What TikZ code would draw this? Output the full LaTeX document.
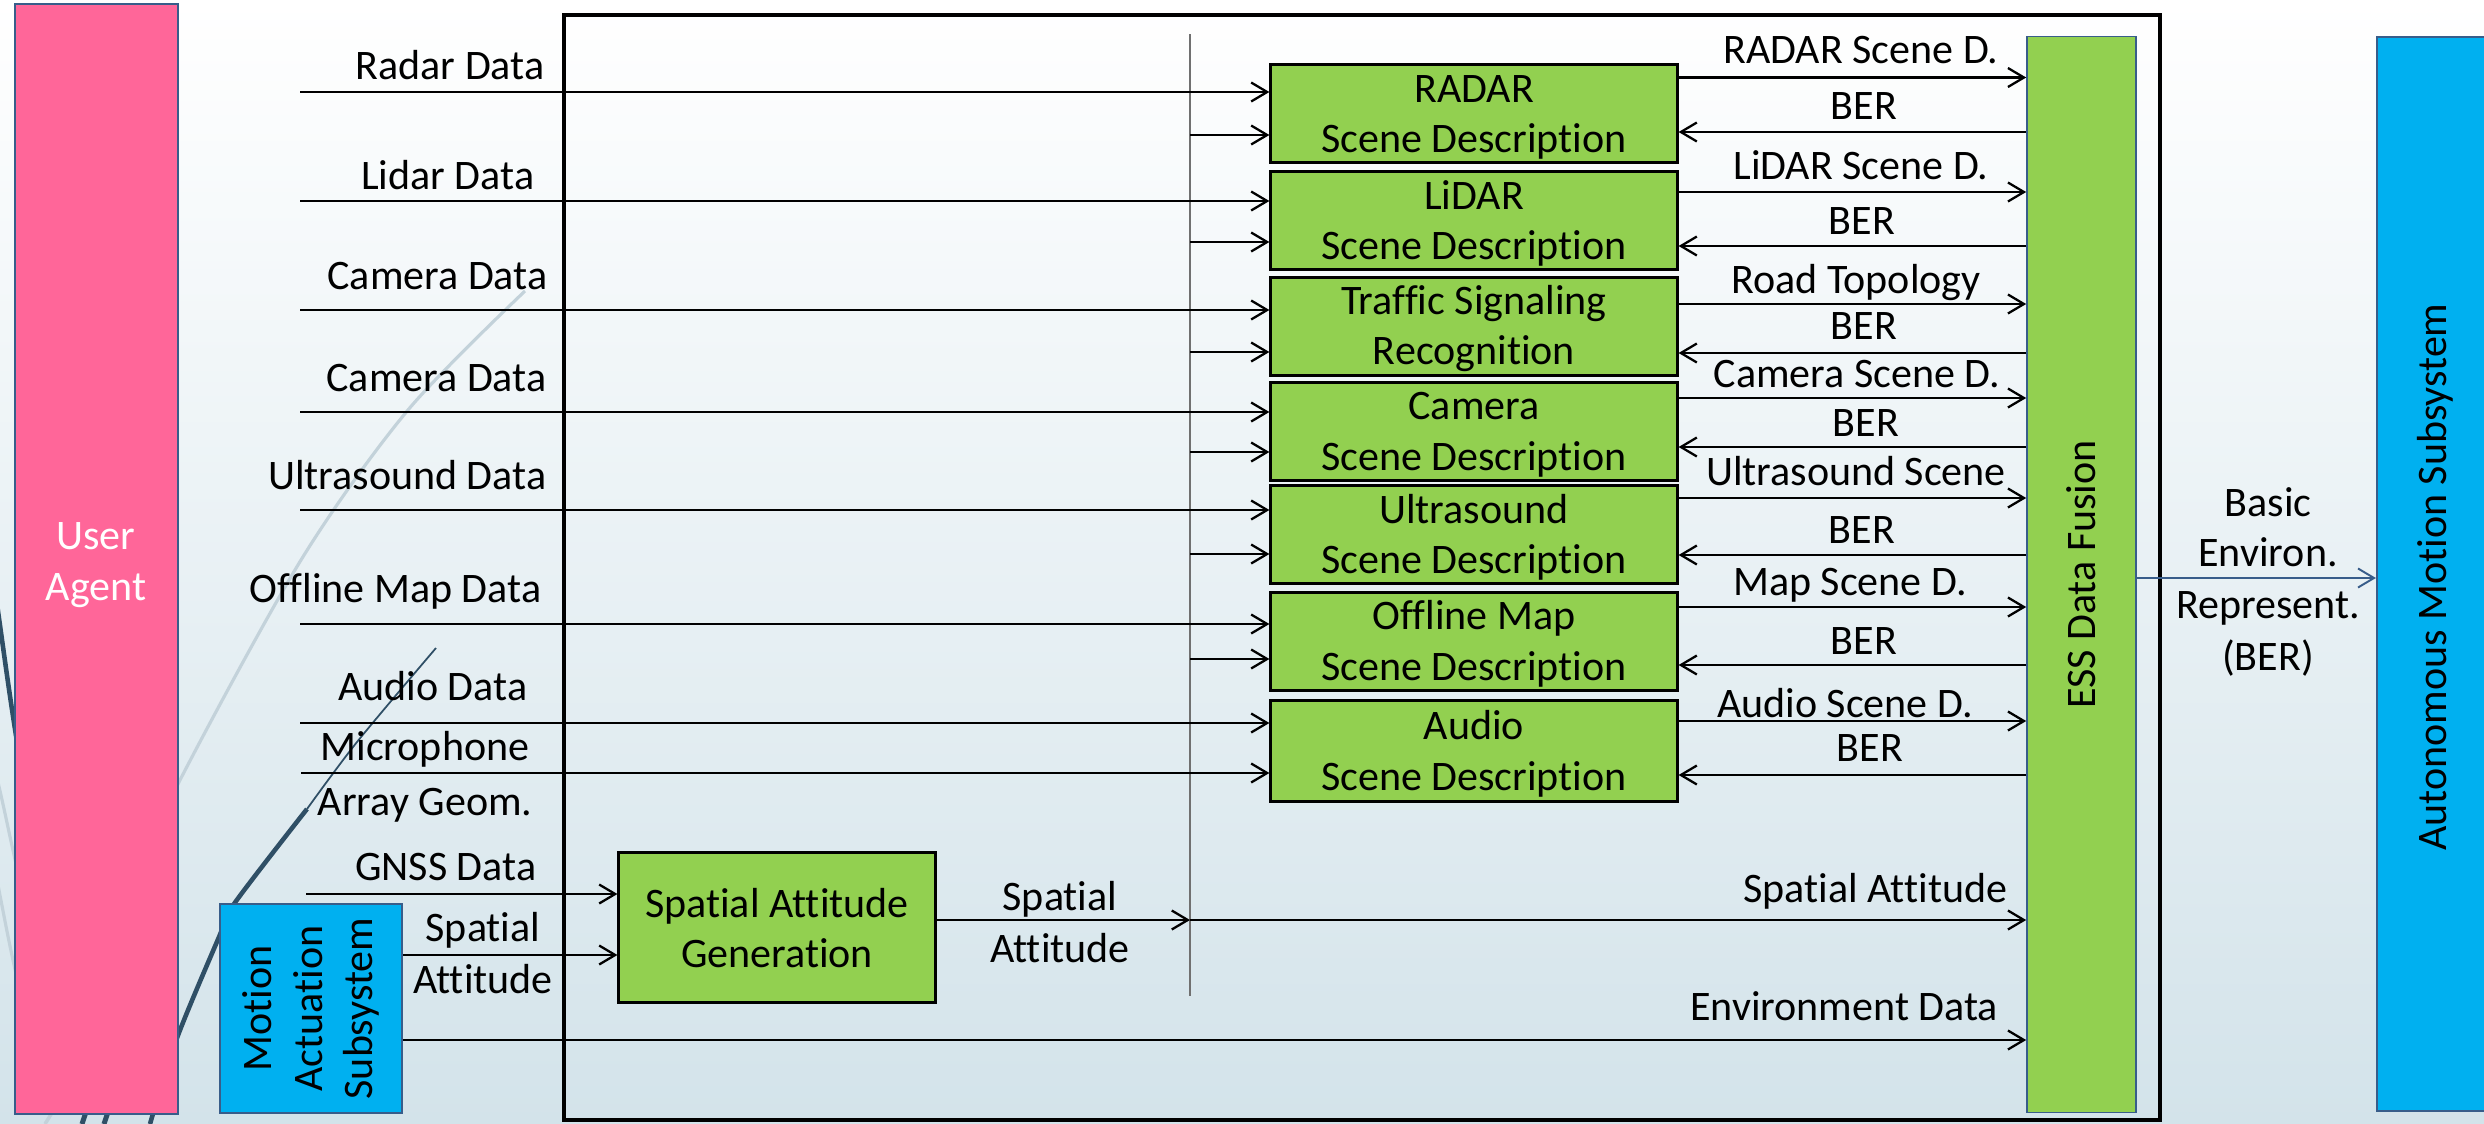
\documentclass[tikz,border=0pt]{standalone}
\usepackage{fontspec}
\setmainfont{Carlito}[Ligatures=NoCommon]
\usetikzlibrary{arrows.meta,calc}
\definecolor{boxgreen}{HTML}{92D050}
\definecolor{boxblue}{HTML}{00B0F0}
\definecolor{boxpink}{HTML}{FF6699}
\definecolor{edgeblue}{HTML}{385D8A}
\definecolor{bgbot}{RGB}{211,227,234}
\definecolor{curvedark}{HTML}{2F4F66}
\definecolor{curvelight}{HTML}{C3D2DA}
\definecolor{vlinecol}{HTML}{707070}
\begin{document}
\begin{tikzpicture}[x=0.01cm,y=-0.01cm,
  txt/.style={font=\fontsize{11.95pt}{14.4pt}\selectfont, inner sep=0pt},
  lbl/.style={txt, anchor=base},
  lblr/.style={txt, anchor=base east},
  gbox/.style={draw=black, line width=0.85pt, fill=boxgreen, inner sep=0pt, minimum width=4.06cm, minimum height=0.97cm},
  arr/.style={line width=0.65pt, -{Straight Barb[length=0.16cm,width=0.19cm]}},
]
\useasboundingbox (0,0) rectangle (2484,1124);
% background
\shade[top color=white, bottom color=bgbot] (0,0) rectangle (2484,1124);
% decorative curves
\draw[curvelight, line width=0.9pt] plot[smooth] coordinates {(150,860) (177,786) (301,560) (408,410) (525,291)};
\draw[curvedark, line width=1.3pt] plot[smooth] coordinates {(150,1124) (177,1038) (219,937) (234,904) (307,809)};
\draw[curvedark, line width=0.5pt] plot[smooth] coordinates {(307,809) (357,742) (436,648)};
\draw[curvedark, line width=1.3pt] (-5,590) .. controls (5,660) and (10,700) .. (20,760);
\draw[curvelight, line width=0.9pt] (-5,770) .. controls (5,810) and (10,840) .. (20,880);
\draw[curvelight, line width=0.9pt] (-5,870) .. controls (5,920) and (10,950) .. (20,990);
\draw[curvelight, line width=1pt] (45,1124) -- (60,1100);
\draw[curvedark, line width=1.4pt] (82,1124) -- (90,1100);
\draw[curvedark, line width=1.4pt] (104,1124) -- (112,1100);

% outer boxes
\node[draw=edgeblue, line width=0.6pt, fill=boxpink, inner sep=0pt, minimum width=1.63cm, minimum height=11.1cm] (ua) at (96.5,559) {};
\node[txt, white, align=center] (uat) at (96,565) {User\\Agent};
\node[draw=edgeblue, line width=0.6pt, fill=boxblue, inner sep=0pt, minimum width=1.82cm, minimum height=2.09cm] (mas) at (311,1008.5) {};
\node[txt, rotate=90, align=center] (mast) at (mas.center) {Motion\\Actuation\\Subsystem};
\node[draw=edgeblue, line width=0.6pt, fill=boxblue, inner sep=0pt, minimum width=1.16cm, minimum height=10.74cm] (amb) at (2435,574) {};
\node[txt, rotate=90] (ambt) at (2435,577) {Autonomous Motion Subsystem};

% main frame
\draw[line width=1.1pt] (564,15) rectangle (2160,1120);

% ESS
\node[draw=edgeblue, line width=0.45pt, fill=boxgreen, inner sep=0pt, minimum width=1.09cm, minimum height=10.75cm] (ess) at (2081.5,574.5) {};
\node[txt, rotate=90] (esst) at (ess.center) {ESS Data Fusion};

% green boxes
\node[gbox] (r1) at (1474,113.5) {};
\node[gbox] (r2) at (1474,220.5) {};
\node[gbox] (r3) at (1474,326.5) {};
\node[gbox] (r4) at (1474,431.5) {};
\node[gbox] (r5) at (1474,534.5) {};
\node[gbox] (r6) at (1474,641.5) {};
\node[gbox, minimum height=1.0cm] (r7) at (1474,751) {};
\node[gbox, minimum width=3.16cm, minimum height=1.49cm] (sag) at (777,927.5) {};

\node[lbl] at (1474,102) {RADAR};
\node[lbl] at (1474,152) {Scene Description};
\node[lbl] at (1474,209) {LiDAR};
\node[lbl] at (1474,259) {Scene Description};
\node[lbl] at (1474,314) {Traffic Signaling};
\node[lbl] at (1474,364) {Recognition};
\node[lbl] at (1474,419) {Camera};
\node[lbl] at (1474,470) {Scene Description};
\node[lbl] at (1474,523) {Ultrasound};
\node[lbl] at (1474,573) {Scene Description};
\node[lbl] at (1474,629) {Offline Map};
\node[lbl] at (1474,680) {Scene Description};
\node[lbl] at (1474,739) {Audio};
\node[lbl] at (1474,790) {Scene Description};
\node[lbl] at (777,917) {Spatial Attitude};
\node[lbl] at (777,967) {Generation};

% vertical distribution line
\coordinate (vt) at (1190,34);
\coordinate (vb) at (1190,996);
\draw[vlinecol, line width=0.35pt] (vt) -- (vb);

% input lines
\coordinate (iRadar) at (300,92);
\coordinate (iLidar) at (300,201);
\coordinate (iCamA) at (300,310);
\coordinate (iCamB) at (300,412);
\coordinate (iUltra) at (300,510);
\coordinate (iMap) at (300,624);
\coordinate (iAudio) at (300,723);
\coordinate (iMic) at (301,773);
\coordinate (iGnss) at (306,894);
\draw[arr] (iRadar) -- (iRadar -| r1.west);
\draw[arr] (iLidar) -- (iLidar -| r2.west);
\draw[arr] (iCamA) -- (iCamA -| r3.west);
\draw[arr] (iCamB) -- (iCamB -| r4.west);
\draw[arr] (iUltra) -- (iUltra -| r5.west);
\draw[arr] (iMap) -- (iMap -| r6.west);
\draw[arr] (iAudio) -- (iAudio -| r7.west);
\draw[arr] (iMic) -- (iMic -| r7.west);
\draw[arr] (iGnss) -- (iGnss -| sag.west);

% spatial attitude feeds
\draw[arr] (vt |- 0,135) -- (r1.west |- 0,135);
\draw[arr] (vt |- 0,242) -- (r2.west |- 0,242);
\draw[arr] (vt |- 0,352) -- (r3.west |- 0,352);
\draw[arr] (vt |- 0,452) -- (r4.west |- 0,452);
\draw[arr] (vt |- 0,554) -- (r5.west |- 0,554);
\draw[arr] (vt |- 0,659) -- (r6.west |- 0,659);

% outputs / BER feedback
\draw[arr] (r1.east |- 0,77.5) -- (ess.west |- 0,77.5);
\draw[arr] (ess.west |- 0,132) -- (r1.east |- 0,132);
\draw[arr] (r2.east |- 0,192) -- (ess.west |- 0,192);
\draw[arr] (ess.west |- 0,246) -- (r2.east |- 0,246);
\draw[arr] (r3.east |- 0,304) -- (ess.west |- 0,304);
\draw[arr] (ess.west |- 0,353) -- (r3.east |- 0,353);
\draw[arr] (r4.east |- 0,398) -- (ess.west |- 0,398);
\draw[arr] (ess.west |- 0,447) -- (r4.east |- 0,447);
\draw[arr] (r5.east |- 0,498) -- (ess.west |- 0,498);
\draw[arr] (ess.west |- 0,555) -- (r5.east |- 0,555);
\draw[arr] (r6.east |- 0,607) -- (ess.west |- 0,607);
\draw[arr] (ess.west |- 0,665) -- (r6.east |- 0,665);
\draw[arr] (r7.east |- 0,721) -- (ess.west |- 0,721);
\draw[arr] (ess.west |- 0,775) -- (r7.east |- 0,775);

% spatial attitude & environment
\draw[arr] (mas.east |- 0,955) -- (sag.west |- 0,955);
\draw[arr] (sag.east |- 0,920) -- (vt |- 0,920);
\draw[arr] (vt |- 0,920) -- (ess.west |- 0,920);
\draw[arr] (mas.east |- 0,1040) -- (ess.west |- 0,1040);
\draw[edgeblue, line width=0.55pt, -{Straight Barb[length=0.16cm,width=0.19cm]}] (ess.east |- 0,578) -- (amb.west |- 0,578);

% left labels
\node[lblr] at (545,79) {Radar Data};
\node[lblr] at (535,189) {Lidar Data};
\node[lblr] at (548,289) {Camera Data};
\node[lblr] at (547,391) {Camera Data};
\node[lblr] at (547,489) {Ultrasound Data};
\node[lblr] at (542,602) {Offline Map Data};
\node[lblr] at (528,700) {Audio Data};
\node[lblr] at (530,760) {Microphone};
\node[lblr] at (533,815) {Array Geom.};
\node[lblr] at (537,880) {GNSS Data};
\node[lbl] at (483,941) {Spatial};
\node[lbl] at (483,993) {Attitude};
\node[lbl] at (1060,910) {Spatial};
\node[lbl] at (1060,962) {Attitude};

% right labels
\node[lbl] at (1861,64) {RADAR Scene D.};
\node[lbl] at (1864,120) {BER};
\node[lbl] at (1861,179) {LiDAR Scene D.};
\node[lbl] at (1862,234) {BER};
\node[lbl] at (1856,293) {Road Topology};
\node[lbl] at (1864,339) {BER};
\node[lbl] at (1857,387) {Camera Scene D.};
\node[lbl] at (1866,436) {BER};
\node[lbl] at (1856,485) {Ultrasound Scene};
\node[lbl] at (1862,543) {BER};
\node[lbl] at (1850,595) {Map Scene D.};
\node[lbl] at (1864,654) {BER};
\node[lbl] at (1845,717) {Audio Scene D.};
\node[lbl] at (1870,761) {BER};
\node[lblr] at (2008,902) {Spatial Attitude};
\node[lbl] at (1844,1020) {Environment Data};

\node[lbl] at (2268,516) {Basic};
\node[lbl] at (2268,566) {Environ.};
\node[lbl] at (2268,618) {Represent.};
\node[lbl] at (2268,670) {(BER)};
\end{tikzpicture}
\end{document}
